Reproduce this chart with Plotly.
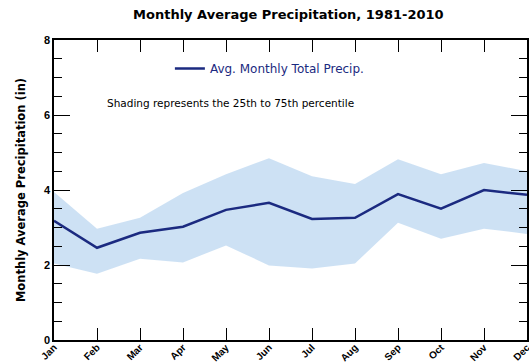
import plotly.graph_objects as go

# Monthly precipitation normals, 1981-2010 (inches)
months = ["Jan", "Feb", "Mar", "Apr", "May", "Jun",
          "Jul", "Aug", "Sep", "Oct", "Nov", "Dec"]
avg_precip = [3.18, 2.46, 2.86, 3.02, 3.47, 3.66, 3.23, 3.26, 3.89, 3.50, 4.00, 3.87]
pct25 = [2.04, 1.77, 2.17, 2.07, 2.52, 1.99, 1.91, 2.04, 3.13, 2.70, 2.97, 2.83]
pct75 = [3.95, 2.97, 3.26, 3.92, 4.42, 4.85, 4.37, 4.16, 4.82, 4.42, 4.72, 4.50]

x = list(range(len(months)))
font_family = "DejaVu Sans, Arial, sans-serif"
tick_font = "Liberation Sans, Arial, sans-serif"

fig = go.Figure()

# 25th-75th percentile band
fig.add_trace(go.Scatter(x=x, y=pct25, mode="lines", line=dict(width=0),
                         showlegend=False, hoverinfo="skip"))
fig.add_trace(go.Scatter(x=x, y=pct75, mode="lines", line=dict(width=0),
                         fill="tonexty", fillcolor="rgba(200,222,243,0.9)",
                         showlegend=False, hoverinfo="skip"))

# Average monthly total
fig.add_trace(go.Scatter(x=x, y=avg_precip, mode="lines",
                         line=dict(color="#1b2a80", width=2.5),
                         name="Avg. Monthly Total Precip."))

fig.add_annotation(text="Shading represents the 25th to 75th percentile",
                   xref="paper", yref="paper", x=0.108, y=0.79,
                   xanchor="left", yanchor="middle", showarrow=False,
                   font=dict(family=font_family, size=10.5, color="black"))

axis_common = dict(showline=True, linecolor="black", linewidth=1.5,
                   mirror="ticks", ticks="inside", tickcolor="black",
                   tickwidth=1.3, showgrid=False, zeroline=False)

fig.update_layout(
    width=529, height=364,
    margin=dict(l=54, r=2, t=40, b=24),
    paper_bgcolor="white", plot_bgcolor="white",
    font=dict(family=font_family, color="black"),
    title=dict(text="<b>Monthly Average Precipitation, 1981-2010</b>",
               x=0.545, xanchor="center", y=0.959, yanchor="middle",
               font=dict(size=13, family=font_family)),
    legend=dict(x=0.245, y=0.905, xanchor="left", yanchor="middle",
                bgcolor="rgba(0,0,0,0)", itemwidth=30,
                font=dict(size=12, family=font_family, color="#1b2a80")),
    xaxis=dict(**axis_common, range=[0, 11], tickmode="array",
               tickvals=x, ticktext=[f"<b>{m}</b>" for m in months],
               tickangle=-45, ticklen=12, automargin=False,
               ticklabelstandoff=-4, ticklabeloverflow="allow",
               tickfont=dict(size=10, family=tick_font)),
    yaxis=dict(**axis_common, range=[0, 8], dtick=2, ticklen=16,
               tickformat="d", automargin=False,
               tickprefix="<b>", ticksuffix="</b>",
               tickfont=dict(size=11, family=tick_font),
               minor=dict(dtick=0.5, ticks="inside", ticklen=8,
                          tickcolor="black", tickwidth=1),
               title=dict(text="<b>Monthly Average Precipitation (in)</b>",
                          standoff=16, font=dict(size=11.5, family=font_family))),
)

fig.write_html("out.html")
